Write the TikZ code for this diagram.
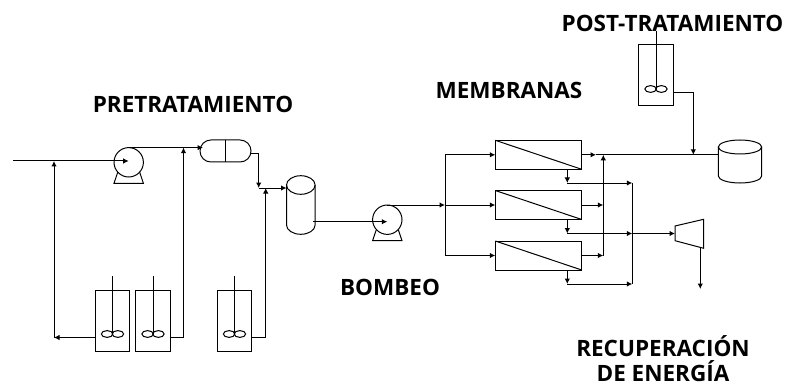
\documentclass[tikz,border=0pt]{standalone}
\usepackage{fontspec}
\setmainfont{Open Sans}
\usetikzlibrary{positioning, arrows.meta, shapes.geometric, calc}

\begin{document}
\begin{tikzpicture}[
    x=1pt, y=-1pt,
    unit/.style={draw, inner sep=0pt, outer sep=0pt, line width=1pt},
    tank/.style={unit, minimum width=34.6pt, minimum height=61pt},
    blade/.style={unit, ellipse, minimum width=11.5pt, minimum height=6.8pt},
    pump/.style={unit, circle, minimum size=29.4pt},
    membrane/.style={unit, minimum width=86.4pt, minimum height=29pt},
    sep/.style={unit, rounded corners=10.9pt, minimum width=51pt, minimum height=22pt},
    lid/.style={unit, ellipse},
    line/.style={line width=1pt},
    flow/.style={line width=1pt, -{Latex[length=5.5pt, width=5.5pt]}},
    stagelabel/.style={font=\bfseries\fontsize{22.5}{25}\selectfont, align=center, inner sep=0pt},
]
    \useasboundingbox (0,0) rectangle (790,385);

    % Labels
    \node[stagelabel] (pre) at (193,104) {PRETRATAMIENTO};
    \node[stagelabel] (mem) at (509,90) {MEMBRANAS};
    \node[stagelabel] (bom) at (390,287.5) {BOMBEO};
    \node[stagelabel] (post) at (672.5,23) {POST-TRATAMIENTO};
    \node[stagelabel] (rec) at (663,359) {RECUPERACIÓN\\DE ENERGÍA};

    % Mixing tanks
    \foreach \name/\x/\y in {tka/112.5/320.5, tkb/153/320.5, tkc/234.5/320.5, tkd/656/75.5}{
      \node[tank] (\name) at (\x,\y) {};
      \node[blade] (\name l) at (\x-5.4,\y+13.5) {};
      \node[blade] (\name r) at (\x+5.4,\y+13.5) {};
      \coordinate (\name top) at (\x,\y-44.5);
      \coordinate (\name out) at (\x+17.3,\y+17);
      \coordinate (\name hub) at (\x,\y+13.5);
      \draw[line] (\name top) -- (\name hub);
    }
    \coordinate (tkaout) at (95.2,337.5);

    % Pumps
    \foreach \name/\x/\y in {pa/128.7/162.3, pb/387.3/219.7}{
      \node[pump] (\name) at (\x,\y) {};
      \draw[line] (\x-11,\y+10) -- (\x-14.7,\y+21) -- (\x+14.7,\y+21) -- (\x+11,\y+10);
    }

    % Separator and vessels
    \node[sep] (sp) at (225.5,151) {};
    \draw[line] (sp.north) -- (sp.south);
    \node[lid, minimum width=28.6pt, minimum height=18.6pt] (cy) at (300.8,185) {};
    \draw[line] (cy.west) -- (286.5,225) arc[start angle=180, end angle=0, x radius=14.3, y radius=9.3] -- (cy.east);
    \node[lid, minimum width=43.4pt, minimum height=14pt] (st) at (740,147) {};
    \draw[line] (st.west) -- (718.3,176) arc[start angle=180, end angle=0, x radius=21.7, y radius=7] -- (st.east);

    % Membranes
    \foreach \name/\y in {ma/154.8, mb/205, mc/255.5}{
      \node[membrane] (\name) at (538.5,\y) {};
      \draw[line] (\name.north west) -- (\name.south east);
    }

    % Turbine
    \coordinate (tbw) at (675,233.5);
    \coordinate (tbe) at (700.3,248);
    \draw[line] (675,226) -- (703.7,219.3) -- (703.7,248.3) -- (675,240.7) -- cycle;

    % Junctions
    \coordinate (feed) at (13,161);
    \coordinate (ja) at (54,161);
    \coordinate (jb) at (183.5,147.6);
    \coordinate (jc) at (258.7,188);
    \coordinate (jd) at (265.7,188);
    \coordinate (spin) at (203,147.6);
    \coordinate (cyout) at (313,221.7);
    \coordinate (je) at (445,205);
    \coordinate (jf) at (603.3,154.8);
    \coordinate (jg) at (693.3,154.8);
    \coordinate (jh) at (632.3,233.5);
    \coordinate (ji) at (632.3,183);
    \coordinate (jj) at (632.3,284);
    \coordinate (drain) at (700.3,289);

    % Pretreatment lines
    \draw[line] (feed) -- (ja);
    \draw[flow] (ja) -- (pa.center |- ja);
    \draw[flow] (tkaout) -- (54,337.5);
    \draw[flow] (54,337.5) -- (ja);
    \draw[flow] (tkbout) -| (jb);
    \draw[flow] (pa.north) -- (spin);
    \draw[line] (251,153.5) -| (258.7,170);
    \draw[flow] (258.7,170) -- (jc);
    \draw[flow] (tkcout) -| (jd);
    \draw[flow] (jc) -- (cy.west |- jc);
    \draw[flow] (cyout) -- (pb.center |- cyout);

    % Feed to membranes
    \draw[flow] (pb.north) -- (je);
    \draw[line] (je |- ma.west) -- (je |- mc.west);
    \draw[flow] (je) -- (mb.west);
    \draw[flow] (je |- ma.west) -- (ma.west);
    \draw[flow] (je |- mc.west) -- (mc.west);

    % Permeate
    \draw[flow] (ma.east) -- (596,154.8);
    \draw[line] (596,154.8) -- (jg);
    \draw[line] (jg) -- (st.west |- jg);
    \draw[flow] (mb.east) -- (603.3,205);
    \draw[flow] (mc.east) -- (603.3,255.5);
    \draw[flow] (603.3,255.5) -- (jf);
    \draw[flow] (tkdout) -| (jg);

    % Concentrate
    \foreach \name/\y in {ma/183, mb/233.5, mc/284}{
      \draw[flow] (567.3,0 |- \name.south) -- (567.3,\y);
      \draw[flow] (567.3,\y) -- (632.3,\y);
    }
    \draw[line] (ji) -- (jj);
    \draw[flow] (jh) -- (tbw);
    \draw[flow] (tbe) -- (drain);
\end{tikzpicture}
\end{document}
